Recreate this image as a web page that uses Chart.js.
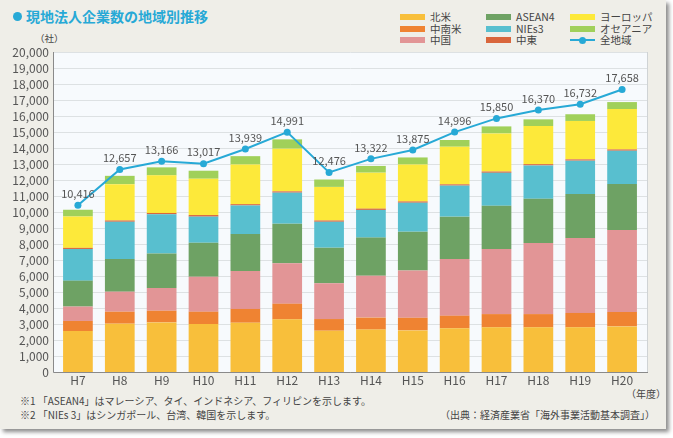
<!DOCTYPE html>
<html>
<head>
<meta charset="utf-8">
<script src="https://cdn.jsdelivr.net/npm/chart.js@4.4.1/dist/chart.umd.min.js"></script>
<style>
  body { margin: 0; background: #fff; font-family: "Noto Sans CJK JP", sans-serif; }
  #wrap { position: relative; width: 673px; height: 438px; overflow: hidden; }
  #panel { position: absolute; left: 0; top: 0; width: 666px; height: 429px; background: #efeee8;
           box-shadow: 3px 3px 4px rgba(0,0,0,0.45); }
  #chart { position: absolute; left: 0; top: 0; }
  .txt { position: absolute; white-space: nowrap; color: #444; }
  #title { left: 26px; top: 6px; font-size: 14px; font-weight: bold; color: #27a9d6; }
  #dot { position: absolute; left: 13px; top: 12px; width: 9px; height: 9px; border-radius: 50%; background: #27a9d6; }
  .lg { position: absolute; font-size: 10.5px; color: #444; white-space: nowrap; }
  .sw { position: absolute; width: 25px; height: 6px; }
</style>
</head>
<body>
<div id="wrap">
  <div id="panel"></div>
  <div id="dot"></div>
  <div id="title" class="txt">現地法人企業数の地域別推移</div>
  <div class="txt" style="left:35px;top:31px;font-size:9.5px;">（社）</div>
  <div class="txt" style="left:626px;top:386px;font-size:10px;">（年度）</div>
  <div class="txt" style="left:20px;top:393px;font-size:10px;">※1 「ASEAN4」はマレーシア、タイ、インドネシア、フィリピンを示します。</div>
  <div class="txt" style="left:20px;top:407px;font-size:10px;">※2 「NIEs 3」はシンガポール、台湾、韓国を示します。</div>
  <div class="txt" style="left:440px;top:407px;font-size:10px;">（出典：経済産業省「海外事業活動基本調査」）</div>
  <div id="legend"></div>
  <canvas id="chart" width="673" height="438"></canvas>
</div>
<script>
const years = ['H7', 'H8', 'H9', 'H10', 'H11', 'H12', 'H13', 'H14', 'H15', 'H16', 'H17', 'H18', 'H19', 'H20'];

const northAmerica = [2560, 3020, 3100, 3000, 3080, 3290, 2580, 2650, 2600, 2730, 2790, 2790, 2790, 2850];
const latinAmerica = [630, 750, 730, 770, 860, 980, 730, 750, 790, 790, 830, 830, 900, 900];
const china        = [900, 1250, 1420, 2190, 2370, 2520, 2230, 2620, 2960, 3540, 4060, 4440, 4690, 5130];
const asean4       = [1620, 2040, 2150, 2120, 2310, 2480, 2230, 2380, 2420, 2650, 2710, 2770, 2750, 2870];
const nies3        = [1980, 2330, 2460, 1630, 1790, 1940, 1620, 1730, 1810, 1940, 2060, 2080, 2080, 2080];
const middleEast   = [70, 80, 80, 100, 80, 80, 80, 80, 80, 80, 80, 80, 80, 80];
const europe       = [1960, 2270, 2350, 2270, 2480, 2670, 2100, 2250, 2310, 2350, 2380, 2380, 2400, 2520];
const oceania      = [420, 520, 500, 500, 520, 580, 460, 420, 440, 420, 440, 420, 420, 440];
const total        = [10416, 12657, 13166, 13017, 13939, 14991, 12476, 13322, 13875, 14996, 15850, 16370, 16732, 17658];

const seriesNames  = ['北米', '中南米', '中国', 'ASEAN4', 'NIEs3', '中東', 'ヨーロッパ', 'オセアニア'];
const seriesData   = [northAmerica, latinAmerica, china, asean4, nies3, middleEast, europe, oceania];
const seriesColors = ['#f8bf3b', '#ef8332', '#e29596', '#6ea264', '#58bfcf', '#d9663c', '#fde93a', '#a0d05a'];
const totalName = '全地域';
const lineColor = '#27a9d6';

// legend (3 columns, filled column by column)
const legend = document.getElementById('legend');
const colX = [400, 486, 570];
const rowY = [14, 25.5, 37];
const legendItems = seriesNames.map((n, i) => ({ name: n, color: seriesColors[i] }));
legendItems.push({ name: totalName, line: true });
legendItems.forEach((it, i) => {
  const x = colX[Math.floor(i / 3)], y = rowY[i % 3];
  if (it.line) {
    legend.innerHTML += `<div class="sw" style="left:${x}px;top:${y + 2}px;height:2px;background:${lineColor}"></div>` +
      `<div class="sw" style="left:${x + 9}px;top:${y - 0.5}px;width:7px;height:7px;border-radius:50%;background:${lineColor}"></div>`;
  } else {
    legend.innerHTML += `<div class="sw" style="left:${x}px;top:${y}px;background:${it.color}"></div>`;
  }
  legend.innerHTML += `<div class="lg" style="left:${x + 30}px;top:${y - 5}px">${it.name}</div>`;
});

const PLOT_L = 53, PLOT_R = 648;

// plot background, grid and axis lines
const plotBg = {
  id: 'plotBg',
  beforeDatasetsDraw(chart) {
    const { ctx, chartArea, scales: { y } } = chart;
    ctx.save();
    ctx.fillStyle = '#f7fafd';
    ctx.fillRect(PLOT_L, chartArea.top, PLOT_R - PLOT_L, chartArea.bottom - chartArea.top);
    ctx.strokeStyle = '#dde1e3';
    ctx.lineWidth = 1;
    y.ticks.forEach(t => {
      const py = Math.round(y.getPixelForValue(t.value)) + 0.5;
      ctx.beginPath(); ctx.moveTo(PLOT_L, py); ctx.lineTo(PLOT_R, py); ctx.stroke();
    });
    ctx.strokeStyle = '#cfd3d5';
    ctx.beginPath(); ctx.moveTo(PLOT_R - 0.5, chartArea.top); ctx.lineTo(PLOT_R - 0.5, chartArea.bottom); ctx.stroke();
    ctx.strokeStyle = '#8a8a8a';
    ctx.beginPath();
    ctx.moveTo(PLOT_L + 0.5, chartArea.top);
    ctx.lineTo(PLOT_L + 0.5, chartArea.bottom + 0.5);
    ctx.lineTo(PLOT_R, chartArea.bottom + 0.5);
    ctx.stroke();
    ctx.restore();
  }
};

// value labels above the total line
const totalLabels = {
  id: 'totalLabels',
  afterDatasetsDraw(chart) {
    const { ctx } = chart;
    const idx = chart.data.datasets.findIndex(d => d.type === 'line');
    const meta = chart.getDatasetMeta(idx);
    ctx.save();
    ctx.font = '11px "Noto Sans CJK JP", sans-serif';
    ctx.fillStyle = '#555';
    ctx.textAlign = 'center';
    ctx.textBaseline = 'bottom';
    meta.data.forEach((pt, i) => {
      ctx.fillText(total[i].toLocaleString('en-US'), pt.x, pt.y - 6);
    });
    ctx.restore();
  }
};

const datasets = seriesNames.map((n, i) => ({
  type: 'bar',
  label: n,
  data: seriesData[i],
  backgroundColor: seriesColors[i],
  borderWidth: 0,
  barPercentage: 0.71,
  categoryPercentage: 1,
  order: 1
}));
datasets.push({
  type: 'line',
  label: totalName,
  data: total,
  stack: 'total',
  borderColor: lineColor,
  backgroundColor: lineColor,
  borderWidth: 2,
  pointRadius: 3.5,
  pointBackgroundColor: lineColor,
  pointBorderWidth: 0,
  tension: 0,
  order: 0
});

new Chart(document.getElementById('chart'), {
  data: { labels: years, datasets },
  options: {
    responsive: false,
    animation: false,
    layout: { padding: { top: 52, right: 30, left: 0, bottom: 0 } },
    plugins: { legend: { display: false }, tooltip: { enabled: false } },
    scales: {
      x: {
        stacked: true,
        grid: { display: false, drawTicks: false },
        border: { display: false },
        ticks: { color: '#555', font: { size: 12, family: '"Noto Sans CJK JP", sans-serif' }, padding: 1 },
        afterFit(s) { s.height = 66; }
      },
      y: {
        stacked: true,
        min: 0,
        max: 20000,
        grid: { display: false, drawTicks: false },
        border: { display: false },
        ticks: {
          stepSize: 1000,
          autoSkip: false,
          color: '#555',
          padding: 8,
          font: { size: 12, family: '"Noto Sans CJK JP", sans-serif' },
          callback: v => v.toLocaleString('en-US')
        },
        afterFit(s) { s.width = 57; }
      }
    }
  },
  plugins: [plotBg, totalLabels]
});
</script>
</body>
</html>
